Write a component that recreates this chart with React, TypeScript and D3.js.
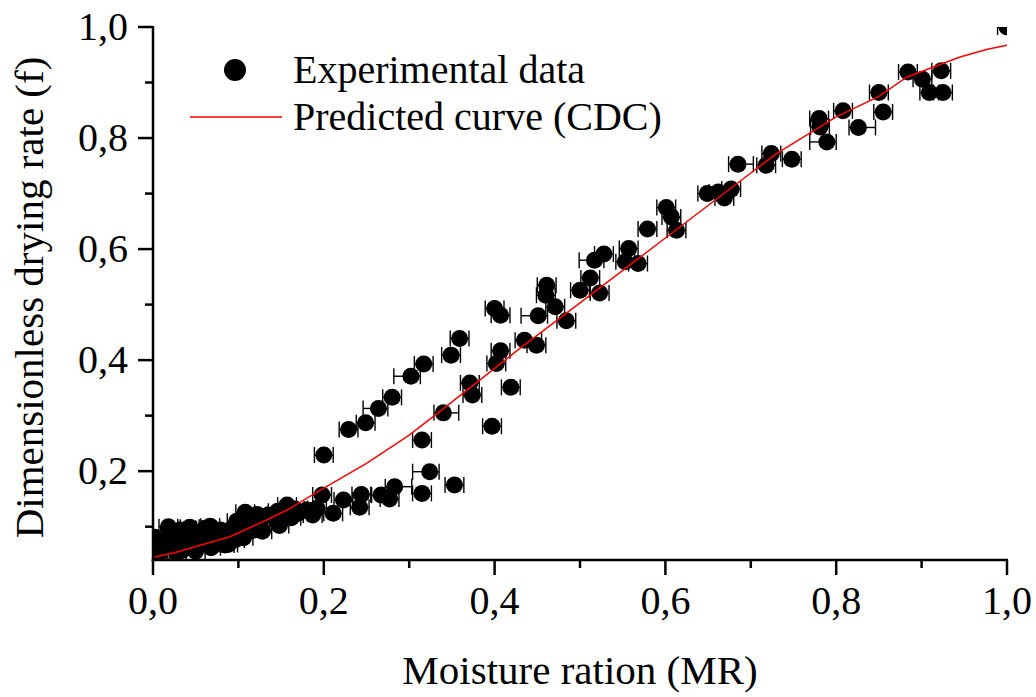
import React from "react";
import * as d3 from "d3";

// Experimental data: moisture ratio (MR) vs dimensionless drying rate (f)
const mrValues = [
  0.002, 0.005, 0.008, 0.014, 0.020, 0.026, 0.032, 0.035, 0.043, 0.046,
  0.055, 0.061, 0.067, 0.073, 0.079, 0.084, 0.090, 0.096, 0.102, 0.108,
  0.113, 0.119, 0.125, 0.135, 0.143, 0.152, 0.157, 0.170, 0.180, 0.187,
  0.010, 0.028, 0.050, 0.068, 0.088, 0.106, 0.128, 0.148, 0.162, 0.030,
  0.052, 0.086, 0.112, 0.122, 0.146, 0.166, 0.192, 0.018, 0.040, 0.064,
  0.000, 0.098,
  0.198, 0.211, 0.223, 0.244, 0.242, 0.267, 0.277, 0.283, 0.315, 0.324, 0.353,
  0.200, 0.229, 0.249, 0.264, 0.280, 0.302, 0.317, 0.349, 0.359, 0.400, 0.407,
  0.315, 0.340, 0.371, 0.374, 0.397, 0.402, 0.407, 0.419, 0.435, 0.449,
  0.451, 0.460, 0.461, 0.471, 0.484, 0.500, 0.512, 0.517, 0.523, 0.528,
  0.553, 0.557, 0.568, 0.579, 0.601, 0.607, 0.613, 0.649, 0.662, 0.669,
  0.677, 0.685, 0.718, 0.724, 0.748, 0.780, 0.781, 0.789, 0.808, 0.826,
  0.850, 0.855, 0.884, 0.901, 0.909, 0.923, 0.925, 1.0,
];
const fValues = [
  0.081, 0.063, 0.052, 0.076, 0.085, 0.067, 0.094, 0.058, 0.099, 0.067,
  0.076, 0.097, 0.101, 0.085, 0.094, 0.067, 0.094, 0.076, 0.103, 0.126,
  0.112, 0.094, 0.108, 0.121, 0.115, 0.126, 0.139, 0.124, 0.130, 0.121,
  0.060, 0.052, 0.056, 0.062, 0.068, 0.080, 0.092, 0.102, 0.116, 0.078,
  0.088, 0.086, 0.097, 0.122, 0.128, 0.132, 0.133, 0.100, 0.095, 0.072,
  0.070, 0.110,
  0.157, 0.124, 0.148, 0.158, 0.135, 0.157, 0.150, 0.172, 0.160, 0.199, 0.175,
  0.229, 0.275, 0.287, 0.313, 0.333, 0.371, 0.393, 0.409, 0.439, 0.493, 0.481,
  0.256, 0.305, 0.359, 0.337, 0.281, 0.394, 0.417, 0.351, 0.436, 0.427,
  0.480, 0.517, 0.535, 0.496, 0.471, 0.526, 0.548, 0.580, 0.521, 0.591,
  0.577, 0.601, 0.574, 0.636, 0.675, 0.658, 0.634, 0.700, 0.703, 0.692,
  0.708, 0.753, 0.751, 0.772, 0.762, 0.835, 0.820, 0.793, 0.849, 0.819,
  0.882, 0.847, 0.919, 0.906, 0.882, 0.921, 0.882, 1.0,
];
// horizontal error bars (MR), lower and upper extents
const mrErrLow = [
  0.011, 0.011, 0.011, 0.011, 0.011, 0.011, 0.011, 0.011, 0.011, 0.011,
  0.011, 0.011, 0.011, 0.011, 0.011, 0.011, 0.011, 0.011, 0.011, 0.011,
  0.011, 0.011, 0.011, 0.011, 0.011, 0.011, 0.011, 0.011, 0.011, 0.011,
  0.011, 0.011, 0.011, 0.011, 0.011, 0.011, 0.011, 0.011, 0.011, 0.011,
  0.011, 0.011, 0.011, 0.011, 0.011, 0.011, 0.011, 0.011, 0.011, 0.011,
  0.011, 0.011,
  0.011, 0.011, 0.011, 0.011, 0.011, 0.011, 0.011, 0.011, 0.011, 0.020, 0.011,
  0.011, 0.011, 0.011, 0.018, 0.011, 0.020, 0.011, 0.011, 0.011, 0.011, 0.011,
  0.011, 0.011, 0.011, 0.011, 0.011, 0.011, 0.011, 0.011, 0.011, 0.011,
  0.020, 0.011, 0.011, 0.011, 0.011, 0.011, 0.011, 0.018, 0.011, 0.011,
  0.011, 0.011, 0.011, 0.011, 0.011, 0.011, 0.011, 0.011, 0.011, 0.011,
  0.011, 0.011, 0.011, 0.011, 0.011, 0.011, 0.011, 0.020, 0.011, 0.011,
  0.011, 0.011, 0.011, 0.011, 0.011, 0.011, 0.011, 0.011,
];
const mrErrHigh = [
  0.011, 0.011, 0.011, 0.011, 0.011, 0.011, 0.011, 0.011, 0.011, 0.011,
  0.011, 0.011, 0.011, 0.011, 0.011, 0.011, 0.011, 0.011, 0.011, 0.011,
  0.011, 0.011, 0.011, 0.011, 0.011, 0.011, 0.011, 0.011, 0.011, 0.011,
  0.011, 0.011, 0.011, 0.011, 0.011, 0.011, 0.011, 0.011, 0.011, 0.011,
  0.011, 0.011, 0.011, 0.011, 0.011, 0.011, 0.011, 0.011, 0.011, 0.011,
  0.011, 0.011,
  0.011, 0.011, 0.011, 0.011, 0.011, 0.011, 0.011, 0.020, 0.011, 0.011, 0.011,
  0.011, 0.011, 0.011, 0.011, 0.011, 0.011, 0.011, 0.011, 0.011, 0.011, 0.011,
  0.011, 0.018, 0.011, 0.011, 0.011, 0.011, 0.011, 0.011, 0.020, 0.011,
  0.011, 0.011, 0.011, 0.011, 0.011, 0.011, 0.011, 0.011, 0.011, 0.011,
  0.011, 0.011, 0.011, 0.011, 0.011, 0.011, 0.011, 0.011, 0.011, 0.011,
  0.011, 0.018, 0.011, 0.011, 0.011, 0.011, 0.011, 0.011, 0.011, 0.020,
  0.011, 0.011, 0.011, 0.011, 0.011, 0.011, 0.011, 0.011,
];

// Predicted curve (CDC)
const curveMR = [0, 0.025, 0.09, 0.133, 0.157, 0.196, 0.25, 0.3, 0.333, 0.4, 0.427, 0.5, 0.6, 0.7, 0.731, 0.8, 0.85, 0.883, 0.945, 0.977, 1.0];
const curveF = [0.045, 0.053, 0.082, 0.112, 0.13, 0.166, 0.214, 0.265, 0.304, 0.385, 0.418, 0.503, 0.62, 0.737, 0.773, 0.838, 0.875, 0.91, 0.946, 0.96, 0.967];

const xMajorTicks = [0, 0.2, 0.4, 0.6, 0.8, 1.0];
const xMinorTicks = [0.1, 0.3, 0.5, 0.7, 0.9];
const yMajorTicks = [0.2, 0.4, 0.6, 0.8, 1.0];
const yMinorTicks = [0.1, 0.3, 0.5, 0.7, 0.9];
const fmt = (v: number) => v.toFixed(1).replace(".", ",");

const W = 1036;
const H = 697;
const margin = { left: 153, right: 29, top: 27, bottom: 137 };
const FONT = "'Liberation Serif', 'Times New Roman', serif";

export default function App() {
  const x = d3.scaleLinear().domain([0, 1]).range([margin.left, W - margin.right]);
  const y = d3.scaleLinear().domain([0.04, 1]).range([H - margin.bottom, margin.top]);
  const x0 = x.range()[0], x1 = x.range()[1];
  const y0 = y.range()[0], y1 = y.range()[1];

  const line = d3
    .line<number>()
    .x((_, i) => x(curveMR[i]))
    .y((d) => y(d));

  const capH = 8;
  const r = 8.5;

  return (
    <svg
      width={W}
      height={H}
      style={{ position: "absolute", left: 0, top: 0, background: "#fff" }}
      fontFamily={FONT}
    >
      <defs>
        <clipPath id="plotClip">
          <rect x={x0} y={y1} width={x1 - x0} height={y0 - y1} />
        </clipPath>
      </defs>

      <g clipPath="url(#plotClip)">
        {mrValues.map((mr, i) => {
          const cx = x(mr);
          const cy = y(fValues[i]);
          const xl = x(mr - mrErrLow[i]);
          const xh = x(mr + mrErrHigh[i]);
          return (
            <g key={i} stroke="#000" strokeWidth={1.4}>
              <line x1={xl} x2={xh} y1={cy} y2={cy} />
              <line x1={xl} x2={xl} y1={cy - capH} y2={cy + capH} />
              <line x1={xh} x2={xh} y1={cy - capH} y2={cy + capH} />
            </g>
          );
        })}
        {mrValues.map((mr, i) => (
          <circle key={"c" + i} cx={x(mr)} cy={y(fValues[i])} r={r} fill="#000" />
        ))}
        <path d={line(curveF) || ""} fill="none" stroke="#ff0000" strokeWidth={1.5} />
      </g>

      {/* Axes */}
      <g stroke="#000" strokeWidth={2.5} fill="none">
        <line x1={x0 - 1.25} x2={x1 + 1} y1={y0} y2={y0} />
        <line x1={x0} x2={x0} y1={y1 - 1} y2={y0 + 1.25} />
        {xMajorTicks.map((t) => (
          <line key={"xM" + t} x1={x(t)} x2={x(t)} y1={y0} y2={y0 + 15} />
        ))}
        {xMinorTicks.map((t) => (
          <line key={"xm" + t} x1={x(t)} x2={x(t)} y1={y0} y2={y0 + 8} />
        ))}
        {yMajorTicks.map((t) => (
          <line key={"yM" + t} x1={x0 - 15} x2={x0} y1={y(t)} y2={y(t)} />
        ))}
        {yMinorTicks.map((t) => (
          <line key={"ym" + t} x1={x0 - 8} x2={x0} y1={y(t)} y2={y(t)} />
        ))}
      </g>

      <g fontSize={40} fill="#000">
        {xMajorTicks.map((t) => (
          <text key={"xl" + t} x={x(t)} y={y0 + 54} textAnchor="middle">
            {fmt(t)}
          </text>
        ))}
        {yMajorTicks.map((t) => (
          <text key={"yl" + t} x={x0 - 25} y={y(t) + 13} textAnchor="end">
            {fmt(t)}
          </text>
        ))}
      </g>

      <text x={(x0 + x1) / 2} y={684} fontSize={41} textAnchor="middle" fill="#000">
        Moisture ration (MR)
      </text>
      <text
        transform={`translate(43, ${(y0 + y1) / 2 + 4}) rotate(-90)`}
        fontSize={41}
        textAnchor="middle"
        fill="#000"
      >
        Dimensionless drying rate (f)
      </text>

      {/* Legend */}
      <circle cx={235} cy={70} r={11} fill="#000" />
      <text x={293} y={83} fontSize={40} fill="#000">
        Experimental data
      </text>
      <line x1={190} x2={282} y1={117} y2={117} stroke="#ff0000" strokeWidth={1.5} />
      <text x={293} y={130} fontSize={40} fill="#000">
        Predicted curve (CDC)
      </text>
    </svg>
  );
}
